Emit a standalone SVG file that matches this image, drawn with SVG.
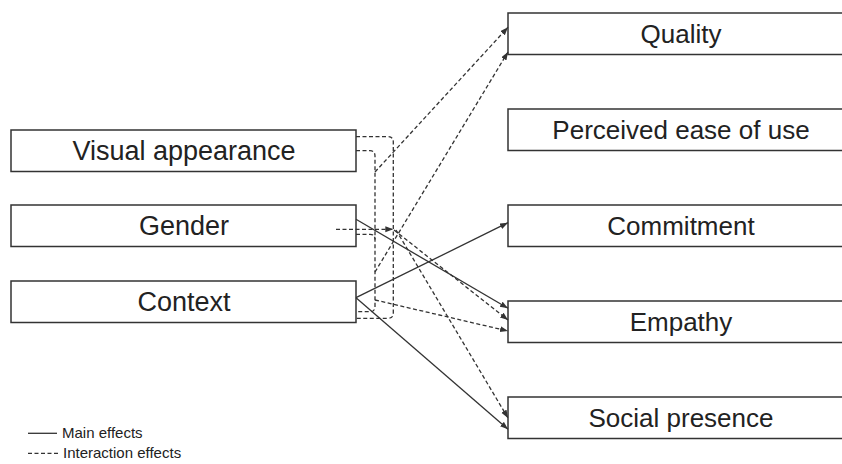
<svg xmlns="http://www.w3.org/2000/svg" width="842" height="464" viewBox="0 0 842 464">
<style>
.box{fill:#fff;stroke:#333;stroke-width:1.5}
.lbl{font-family:"Liberation Sans",Arial,sans-serif;font-size:27px;fill:#222;text-anchor:middle}
.rl{font-size:26px}
.ln{fill:none;stroke:#333;stroke-width:1.3}
.d{stroke-dasharray:4 2.5}
.leg{font-family:"Liberation Sans",Arial,sans-serif;font-size:15px;fill:#222}
</style>
<defs>
<marker id="ah" markerUnits="userSpaceOnUse" markerWidth="9" markerHeight="7" refX="8" refY="3" orient="auto">
<path d="M0,0 L8,3 L0,6 z" fill="#333" stroke="none"/>
</marker>
</defs>
<rect width="842" height="464" fill="#fff"/>
<g id="visual-appearance"><rect class="box" x="11" y="130" width="345" height="41.5"/><text class="lbl" x="184" y="159.5">Visual appearance</text></g>
<g id="gender"><rect class="box" x="11" y="205" width="345" height="41.5"/><text class="lbl" x="184" y="234.5">Gender</text></g>
<g id="context"><rect class="box" x="11" y="281" width="345" height="41.5"/><text class="lbl" x="184" y="310.5">Context</text></g>
<g id="quality"><rect class="box" x="508" y="13" width="360" height="41.5"/><text class="lbl rl" x="681" y="42.5">Quality</text></g>
<g id="perceived-ease"><rect class="box" x="508" y="109" width="360" height="41.5"/><text class="lbl rl" x="681" y="138.5">Perceived ease of use</text></g>
<g id="commitment"><rect class="box" x="508" y="205" width="360" height="41.5"/><text class="lbl rl" x="681" y="234.5">Commitment</text></g>
<g id="empathy"><rect class="box" x="508" y="301" width="360" height="41.5"/><text class="lbl rl" x="681" y="330.5">Empathy</text></g>
<g id="social-presence"><rect class="box" x="508" y="397" width="360" height="41.5"/><text class="lbl rl" x="681" y="426.5">Social presence</text></g>
<g id="connectors">
<path class="ln d" d="M356,136.7 H388 Q393.3,136.7 393.3,142 V313 Q393.3,318.3 388,318.3 H356"/>
<path class="ln d" d="M356,150.7 H370 Q375,150.7 375,156 V306.5 Q375,311.7 370,311.7 H356"/>
<path class="ln d" d="M356,234.3 H370 Q375,234.3 375,239.5"/>
<path class="ln d" d="M336,229.3 H393.3" marker-end="url(#ah)"/>
<path class="ln d" d="M375,172 L508,27.3" marker-end="url(#ah)"/>
<path class="ln d" d="M375,272 L508,52" marker-end="url(#ah)"/>
<path class="ln d" d="M394,230 L508,320" marker-end="url(#ah)"/>
<path class="ln d" d="M396,230 L508,418" marker-end="url(#ah)"/>
<path class="ln d" d="M375,300 L508,331" marker-end="url(#ah)"/>
<path class="ln" d="M356,219.3 L508,308.3" marker-end="url(#ah)"/>
<path class="ln" d="M356,297.7 L508,222.7" marker-end="url(#ah)"/>
<path class="ln" d="M356,297.7 L508,429.3" marker-end="url(#ah)"/>
</g>
<g id="legend">
<line class="ln" x1="28" y1="433.3" x2="57" y2="433.3"/>
<text class="leg" x="62" y="438">Main effects</text>
<line class="ln d" x1="28" y1="453.3" x2="58" y2="453.3"/>
<text class="leg" x="63" y="458">Interaction effects</text>
</g>
</svg>
